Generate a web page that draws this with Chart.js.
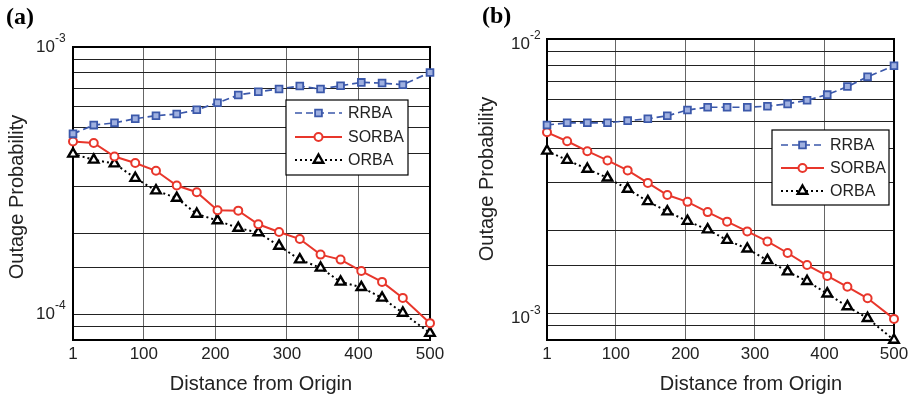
<!DOCTYPE html>
<html lang="en">
<head>
<meta charset="UTF-8" />
<title>Outage Probability vs Distance from Origin</title>
<script src="https://cdn.jsdelivr.net/npm/chart.js"></script>
<style>
  body { margin: 0; background: #fff; }
  .panel { position: absolute; top: 0; height: 399px; }
</style>
</head>
<body>
<div class="panel" style="left:0;width:458px"><canvas id="chartA" width="458" height="399"></canvas></div>
<div class="panel" style="left:458px;width:459px"><canvas id="chartB" width="459" height="399"></canvas></div>

<script>
// x positions of the simulated points (shared by both panels)
const distances = [1, 30, 59, 88, 117, 146, 174, 203, 232, 260, 289, 318, 347, 375, 404, 433, 462, 500];
const xTicks = [1, 100, 200, 300, 400, 500];
const seriesNames = ["RRBA", "SORBA", "ORBA"];

// panel (a)
const rrbaA = [4.73e-4, 5.10e-4, 5.20e-4, 5.39e-4, 5.53e-4, 5.61e-4, 5.82e-4, 6.18e-4, 6.61e-4, 6.80e-4, 6.96e-4, 7.14e-4, 6.96e-4, 7.16e-4, 7.37e-4, 7.33e-4, 7.22e-4, 8.03e-4];
const sorbaA = [4.43e-4, 4.37e-4, 3.89e-4, 3.68e-4, 3.44e-4, 3.03e-4, 2.86e-4, 2.45e-4, 2.44e-4, 2.17e-4, 2.03e-4, 1.91e-4, 1.67e-4, 1.60e-4, 1.45e-4, 1.32e-4, 1.15e-4, 9.25e-5];
const orbaA = [3.98e-4, 3.78e-4, 3.66e-4, 3.23e-4, 2.90e-4, 2.72e-4, 2.37e-4, 2.24e-4, 2.10e-4, 2.02e-4, 1.80e-4, 1.60e-4, 1.49e-4, 1.32e-4, 1.26e-4, 1.15e-4, 1.01e-4, 8.49e-5];
const yRangeA = [8e-5, 1e-3];
const yDecadesA = [-4, -3];

// panel (b)
const rrbaB = [4.86e-3, 4.95e-3, 4.95e-3, 4.95e-3, 5.04e-3, 5.12e-3, 5.25e-3, 5.51e-3, 5.64e-3, 5.64e-3, 5.64e-3, 5.69e-3, 5.80e-3, 5.98e-3, 6.27e-3, 6.71e-3, 7.28e-3, 7.99e-3];
const sorbaB = [4.57e-3, 4.24e-3, 3.90e-3, 3.61e-3, 3.32e-3, 2.99e-3, 2.70e-3, 2.55e-3, 2.34e-3, 2.16e-3, 1.99e-3, 1.83e-3, 1.66e-3, 1.50e-3, 1.37e-3, 1.25e-3, 1.135e-3, 9.55e-4];
const orbaB = [3.91e-3, 3.62e-3, 3.36e-3, 3.12e-3, 2.84e-3, 2.56e-3, 2.35e-3, 2.17e-3, 2.02e-3, 1.85e-3, 1.72e-3, 1.56e-3, 1.42e-3, 1.31e-3, 1.18e-3, 1.06e-3, 9.6e-4, 8.0e-4];
const yRangeB = [8e-4, 1e-2];
const yDecadesB = [-3, -2];

const FONT = "'Liberation Sans', Arial, sans-serif";
const BLUE = "#3b58aa";
const RED = "#e8362b";

const styles = [
  { color: BLUE, width: 1.7, dash: [7, 4], point: "rect", radius: 4.8, fill: "#9fb0e0", pw: 1.8 },
  { color: RED, width: 2, dash: [], point: "circle", radius: 4, fill: "#ffffff", pw: 2 },
  { color: "#000", width: 2, dash: [2, 3], point: "triangle", radius: 5.5, fill: "#ffffff", pw: 2.4 },
];

function makeDatasets(values) {
  return values.map((vals, i) => ({
    label: seriesNames[i],
    data: distances.map((d, k) => ({ x: d, y: vals[k] })),
    borderColor: styles[i].color,
    borderWidth: styles[i].width,
    borderDash: styles[i].dash,
    pointStyle: styles[i].point,
    pointRadius: styles[i].radius,
    pointBackgroundColor: styles[i].fill,
    pointBorderColor: styles[i].color,
    pointBorderWidth: styles[i].pw,
    tension: 0,
    clip: false,
  }));
}

function marker(ctx, s, x, y) {
  ctx.save();
  ctx.setLineDash([]);
  ctx.lineWidth = s.pw;
  ctx.strokeStyle = s.color;
  ctx.fillStyle = s.fill;
  ctx.beginPath();
  const r = s.radius;
  if (s.point === "rect") {
    const h = r * Math.SQRT1_2;
    ctx.rect(x - h, y - h, 2 * h, 2 * h);
  } else if (s.point === "circle") {
    ctx.arc(x, y, r, 0, Math.PI * 2);
  } else {
    ctx.moveTo(x, y - r);
    ctx.lineTo(x + r * 0.866, y + r * 0.5);
    ctx.lineTo(x - r * 0.866, y + r * 0.5);
    ctx.closePath();
  }
  ctx.fill();
  ctx.stroke();
  ctx.restore();
}

// frame, superscript tick labels, axis titles, panel tag and legend box
const decor = {
  id: "decor",
  beforeDatasetsDraw(chart, args, o) {
    const a = chart.chartArea;
    const ctx = chart.ctx;
    ctx.save();
    ctx.strokeStyle = "#000";
    ctx.lineWidth = 2;
    ctx.strokeRect(a.left, a.top, a.right - a.left, a.bottom - a.top);
    ctx.restore();
  },
  afterDraw(chart, args, o) {
    const ctx = chart.ctx;
    const ys = chart.scales.y;
    ctx.save();
    ctx.fillStyle = "#222";
    // 10^n labels
    o.decades.forEach((e) => {
      const py = ys.getPixelForValue(Math.pow(10, e)) + o.labelShift;
      ctx.font = "17px " + FONT;
      ctx.textAlign = "right";
      ctx.textBaseline = "middle";
      ctx.fillText("10", o.labelRight, py);
      ctx.font = "12px " + FONT;
      ctx.textAlign = "left";
      ctx.fillText(String(e), o.labelRight, py - 8);
    });
    // axis titles
    ctx.font = "20px " + FONT;
    ctx.textAlign = "center";
    ctx.textBaseline = "alphabetic";
    ctx.fillText("Distance from Origin", o.xTitle[0], o.xTitle[1]);
    ctx.save();
    ctx.translate(o.yTitle[0], o.yTitle[1]);
    ctx.rotate(-Math.PI / 2);
    ctx.textBaseline = "middle";
    ctx.fillText("Outage Probability", 0, 0);
    ctx.restore();
    // panel tag
    ctx.fillStyle = "#000";
    ctx.font = "bold 24px 'Liberation Serif', 'Times New Roman', serif";
    ctx.textAlign = "left";
    ctx.fillText(o.tag, o.tagPos[0], o.tagPos[1]);
    // legend
    const L = o.legend;
    ctx.fillStyle = "#fff";
    ctx.fillRect(L.x, L.y, L.w, L.h);
    ctx.strokeStyle = "#000";
    ctx.lineWidth = 1.2;
    ctx.strokeRect(L.x, L.y, L.w, L.h);
    styles.forEach((s, i) => {
      const ry = L.rows[i];
      ctx.save();
      ctx.strokeStyle = s.color;
      ctx.lineWidth = s.width;
      ctx.setLineDash(s.dash);
      ctx.beginPath();
      ctx.moveTo(L.x0, ry);
      ctx.lineTo(L.x1, ry);
      ctx.stroke();
      ctx.restore();
      marker(ctx, s, (L.x0 + L.x1) / 2, ry);
      ctx.fillStyle = "#222";
      ctx.font = "16px " + FONT;
      ctx.textAlign = "left";
      ctx.textBaseline = "middle";
      ctx.fillText(seriesNames[i], L.tx, ry + 1);
    });
    ctx.restore();
  },
};

function makeChart(id, values, yRange, box, decorOpts) {
  const W = box.width;
  return new Chart(document.getElementById(id), {
    type: "line",
    data: { datasets: makeDatasets(values) },
    plugins: [decor],
    options: {
      responsive: false,
      animation: false,
      layout: { padding: { left: 0, right: W - box.right, top: box.top, bottom: 0 } },
      scales: {
        x: {
          type: "linear",
          min: 1,
          max: 500,
          afterBuildTicks: (s) => { s.ticks = xTicks.map((v) => ({ value: v })); },
          afterFit: (s) => { s.height = 399 - box.bottom; },
          ticks: { color: "#222", font: { size: 17, family: FONT }, padding: 4, maxRotation: 0, autoSkip: false },
          grid: { color: "#666", lineWidth: 1, drawTicks: false },
          border: { display: false },
        },
        y: {
          type: "logarithmic",
          min: yRange[0],
          max: yRange[1],
          afterFit: (s) => { s.width = box.left; },
          ticks: { display: false },
          grid: { color: "#222", lineWidth: 1, drawTicks: false },
          border: { display: false },
        },
      },
      plugins: {
        legend: { display: false },
        tooltip: { enabled: false },
        decor: decorOpts,
      },
    },
  });
}

makeChart("chartA", [rrbaA, sorbaA, orbaA], yRangeA,
  { width: 458, left: 73, right: 430, top: 47, bottom: 340 },
  {
    decades: yDecadesA, labelRight: 55, labelShift: 0,
    xTitle: [261, 390], yTitle: [17, 197],
    tag: "(a)", tagPos: [6, 24],
    legend: { x: 286, y: 100, w: 122, h: 75, rows: [113, 137, 160], x0: 295, x1: 342, tx: 348 },
  });

makeChart("chartB", [rrbaB, sorbaB, orbaB], yRangeB,
  { width: 459, left: 89, right: 436, top: 39, bottom: 340 },
  {
    decades: yDecadesB, labelRight: 72, labelShift: 5,
    xTitle: [293, 390], yTitle: [29, 179],
    tag: "(b)", tagPos: [24, 23],
    legend: { x: 314, y: 130, w: 117, h: 75, rows: [145, 168, 191], x0: 323, x1: 366, tx: 372 },
  });
</script>
</body>
</html>
